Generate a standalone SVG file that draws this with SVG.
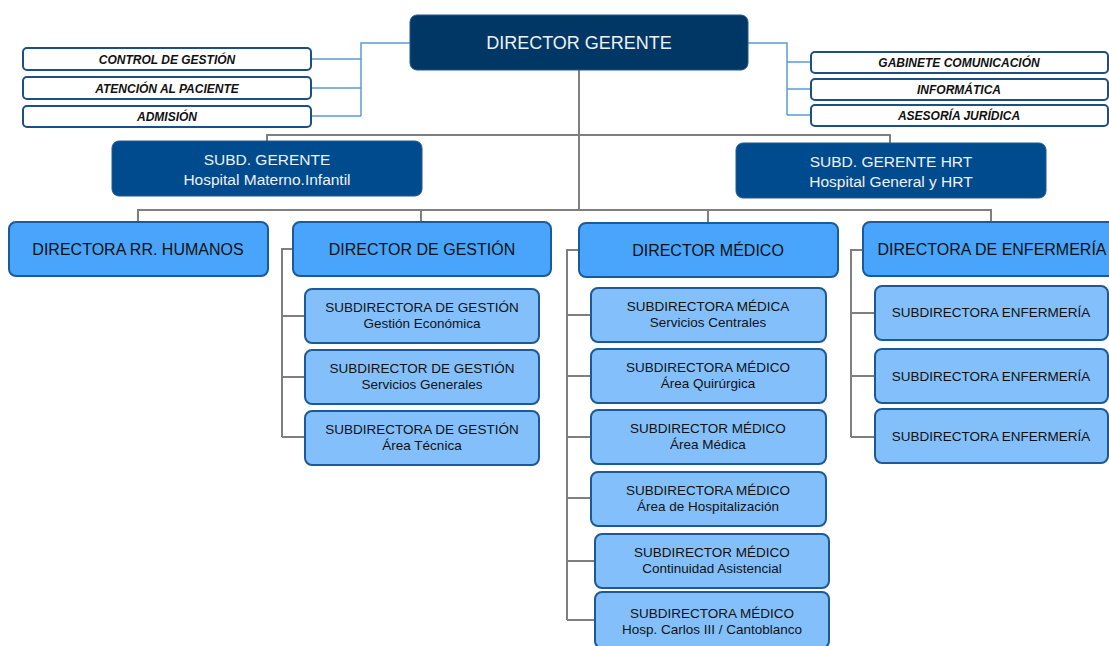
<svg xmlns="http://www.w3.org/2000/svg" width="1109" height="646" viewBox="0 0 1109 646">
<style>
text{font-family:"Liberation Sans",Arial,sans-serif;text-anchor:middle;}
.top{fill:#003764;stroke:#1d5a96;stroke-width:1}
.subd{fill:#004b8d;stroke:#1d5a96;stroke-width:1}
.dir{fill:#48a5fb;stroke:#1b5a98;stroke-width:2}
.sub{fill:#83c0fb;stroke:#1b5a98;stroke-width:2}
.staff{fill:#ffffff;stroke:#1b4f86;stroke-width:2}
.tw{fill:#eef2f6}
.tb{fill:#111111}
.ts{fill:#111111;font-size:12px;font-weight:bold;font-style:italic}
.s13{font-size:13.5px}
.gl{fill:none;stroke:#7f7f7f;stroke-width:2}
.bl{fill:none;stroke:#5b9bd5;stroke-width:1.5}
</style>
<g id="connectors">
<path class="bl" d="M410,43 H361 V116 M311,59 H361 M311,88 H361 M311,116 H361"/>
<path class="bl" d="M748,43 H787 V115 M787,62 H811 M787,89 H811 M787,115 H811"/>
<path class="gl" d="M579,70 V210 M267,141 V135 H890 V143"/>
<path class="gl" d="M138,222 V210 H991 V222 M421,210 V222 M708,210 V223"/>
<path class="gl" d="M293,249 H282 V437 M282,316 H305 M282,377 H305 M282,437 H305"/>
<path class="gl" d="M579,250 H567 V620 M567,315 H591 M567,376 H591 M567,437 H591 M567,498 H591 M567,561 H595 M567,620 H595"/>
<path class="gl" d="M863,250 H851 V437 M851,313 H875 M851,376 H875 M851,437 H875"/>
</g>
<g id="director-gerente"><rect class="top" x="410" y="15" width="338" height="55" rx="7"/><text class="tw" x="579" y="49" font-size="18">DIRECTOR GERENTE</text></g>
<g id="control-gestion"><rect class="staff" x="23" y="48" width="288" height="22" rx="4"/><text class="ts" x="167" y="63.5">CONTROL DE GESTIÓN</text></g>
<g id="atencion-paciente"><rect class="staff" x="23" y="77" width="288" height="22" rx="4"/><text class="ts" x="167" y="92.5">ATENCIÓN AL PACIENTE</text></g>
<g id="admision"><rect class="staff" x="23" y="106" width="288" height="21" rx="4"/><text class="ts" x="167" y="121">ADMISIÓN</text></g>
<g id="gabinete"><rect class="staff" x="811" y="52" width="297" height="21" rx="4"/><text class="ts" x="959" y="66.5">GABINETE COMUNICACIÓN</text></g>
<g id="informatica"><rect class="staff" x="811" y="79" width="297" height="21" rx="4"/><text class="ts" x="959" y="93.5">INFORMÁTICA</text></g>
<g id="asesoria"><rect class="staff" x="811" y="105" width="297" height="21" rx="4"/><text class="ts" x="959" y="119.5">ASESORÍA JURÍDICA</text></g>
<g id="subd-gerente"><rect class="subd" x="112" y="141" width="310" height="55" rx="7"/><text class="tw" x="267" y="165" font-size="15.5">SUBD. GERENTE</text><text class="tw" x="267" y="185" font-size="15.5">Hospital Materno.Infantil</text></g>
<g id="subd-gerente-hrt"><rect class="subd" x="736" y="143" width="310" height="55" rx="7"/><text class="tw" x="891" y="167" font-size="15.5">SUBD. GERENTE HRT</text><text class="tw" x="891" y="187" font-size="15.5">Hospital General y HRT</text></g>
<g id="rrhh"><rect class="dir" x="9" y="222" width="259" height="54" rx="7"/><text class="tb" x="138" y="255" font-size="16">DIRECTORA RR. HUMANOS</text></g>
<g id="dir-gestion"><rect class="dir" x="293" y="222" width="258" height="54" rx="7"/><text class="tb" x="422" y="255" font-size="16">DIRECTOR DE GESTIÓN</text></g>
<g id="dir-medico"><rect class="dir" x="579" y="223" width="259" height="54" rx="7"/><text class="tb" x="708" y="256" font-size="16">DIRECTOR MÉDICO</text></g>
<g id="dir-enfermeria"><rect class="dir" x="863" y="222" width="256" height="54" rx="7"/><text class="tb" x="992" y="255" font-size="16">DIRECTORA DE ENFERMERÍA</text></g>
<g id="sg-economica"><rect class="sub" x="305" y="289" width="234" height="54" rx="7"/><text class="tb s13" x="422" y="312">SUBDIRECTORA DE GESTIÓN</text><text class="tb s13" x="422" y="328">Gestión Económica</text></g>
<g id="sg-servicios"><rect class="sub" x="305" y="350" width="234" height="54" rx="7"/><text class="tb s13" x="422" y="373">SUBDIRECTOR DE GESTIÓN</text><text class="tb s13" x="422" y="389">Servicios Generales</text></g>
<g id="sg-tecnica"><rect class="sub" x="305" y="411" width="234" height="54" rx="7"/><text class="tb s13" x="422" y="434">SUBDIRECTORA DE GESTIÓN</text><text class="tb s13" x="422" y="450">Área Técnica</text></g>
<g id="sm-centrales"><rect class="sub" x="591" y="288" width="235" height="54" rx="7"/><text class="tb s13" x="708" y="311">SUBDIRECTORA MÉDICA</text><text class="tb s13" x="708" y="327">Servicios Centrales</text></g>
<g id="sm-quirurgica"><rect class="sub" x="591" y="349" width="235" height="54" rx="7"/><text class="tb s13" x="708" y="372">SUBDIRECTORA MÉDICO</text><text class="tb s13" x="708" y="388">Área Quirúrgica</text></g>
<g id="sm-medica"><rect class="sub" x="591" y="410" width="235" height="54" rx="7"/><text class="tb s13" x="708" y="433">SUBDIRECTOR MÉDICO</text><text class="tb s13" x="708" y="449">Área Médica</text></g>
<g id="sm-hospitalizacion"><rect class="sub" x="591" y="472" width="235" height="54" rx="7"/><text class="tb s13" x="708" y="495">SUBDIRECTORA MÉDICO</text><text class="tb s13" x="708" y="511">Área de Hospitalización</text></g>
<g id="sm-continuidad"><rect class="sub" x="595" y="534" width="234" height="54" rx="7"/><text class="tb s13" x="712" y="557">SUBDIRECTOR MÉDICO</text><text class="tb s13" x="712" y="573">Continuidad Asistencial</text></g>
<g id="sm-carlos"><rect class="sub" x="595" y="592" width="234" height="56" rx="7"/><text class="tb s13" x="712" y="618">SUBDIRECTORA MÉDICO</text><text class="tb s13" x="712" y="634">Hosp. Carlos III  / Cantoblanco</text></g>
<g id="se-1"><rect class="sub" x="875" y="286" width="233" height="54" rx="7"/><text class="tb s13" x="991" y="317">SUBDIRECTORA ENFERMERÍA</text></g>
<g id="se-2"><rect class="sub" x="875" y="349" width="233" height="54" rx="7"/><text class="tb s13" x="991" y="381">SUBDIRECTORA ENFERMERÍA</text></g>
<g id="se-3"><rect class="sub" x="875" y="409" width="233" height="54" rx="7"/><text class="tb s13" x="991" y="441">SUBDIRECTORA ENFERMERÍA</text></g>
</svg>
